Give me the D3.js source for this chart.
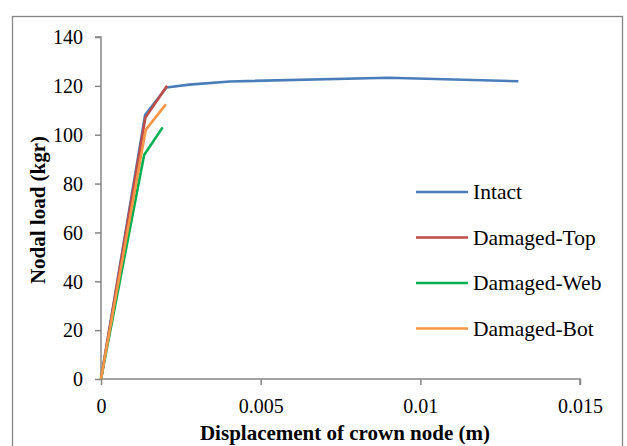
<!DOCTYPE html>
<html>
<head>
<meta charset="utf-8">
<script src="https://cdn.jsdelivr.net/npm/d3@7/dist/d3.min.js"></script>
<style>
  html, body { margin: 0; padding: 0; background: #fff; }
  svg { display: block; }
  text { font-family: "Liberation Serif", "Times New Roman", serif; fill: #000; }
</style>
</head>
<body>
<svg id="chart" width="627" height="446"></svg>
<script>
// Load–displacement curves for the crown node (displacement in m, load in kgr)
const seriesNames = ["Intact", "Damaged-Top", "Damaged-Web", "Damaged-Bot"];
const seriesColors = ["#4A7EBB", "#BE4B48", "#00B050", "#F79646"];

const intactDisp = [0, 0.00138, 0.00205, 0.00276, 0.00404, 0.0090, 0.01307];
const intactLoad = [0, 108, 119.3, 120.5, 121.8, 123.3, 121.9];

const topDisp = [0, 0.00139, 0.00207];
const topLoad = [0, 107, 120];

const webDisp = [0, 0.00135, 0.00193];
const webLoad = [0, 91.7, 103];

const botDisp = [0, 0.0014, 0.00203];
const botLoad = [0, 102, 112.4];

const xTicks = [0, 0.005, 0.01, 0.015];
const yTicks = [0, 20, 40, 60, 80, 100, 120, 140];

const seriesData = [
  [intactDisp, intactLoad],
  [topDisp, topLoad],
  [webDisp, webLoad],
  [botDisp, botLoad]
].map(([xs, ys]) => xs.map((x, i) => ({ x, y: ys[i] })));

const svg = d3.select("#chart");
const axisColor = "#868686";
const tickFont = "20px";
const legendFont = "21.5px";
const titleFont = "21px";

// outer chart frame
svg.append("rect")
  .attr("x", 12.5).attr("y", 16.5)
  .attr("width", 610).attr("height", 440)
  .attr("fill", "none").attr("stroke", axisColor).attr("stroke-width", 1.3);

const x = d3.scaleLinear().domain([0, 0.015]).range([101, 580]);
const y = d3.scaleLinear().domain([0, 140]).range([379, 37]);

// y axis
const yAxis = svg.append("g").attr("transform", "translate(101,0)")
  .call(d3.axisLeft(y).tickValues(yTicks).tickSize(6).tickFormat(d3.format("d")));
yAxis.selectAll("path, line").attr("stroke", axisColor).attr("stroke-width", 1.5);
yAxis.select("path").attr("d", `M-6,${y(140)}H0V${y(0)}`);
yAxis.selectAll("text")
  .attr("x", -18).attr("dy", "0.34em")
  .style("font-size", tickFont).style("font-family", "Liberation Serif").attr("fill", "#000");

// x axis
const xAxis = svg.append("g").attr("transform", "translate(0,379)")
  .call(d3.axisBottom(x).tickValues(xTicks).tickSize(6)
    .tickFormat(d => d === 0 ? "0" : String(+d.toFixed(3))));
xAxis.selectAll("path, line").attr("stroke", axisColor).attr("stroke-width", 1.5);
xAxis.select("path").attr("d", `M${x(0)},0H${x(0.015)}V6`);
xAxis.selectAll("text")
  .attr("y", 34).attr("dy", 0)
  .style("font-size", tickFont).style("font-family", "Liberation Serif").attr("fill", "#000");

// axis titles
svg.append("text")
  .attr("x", 345).attr("y", 440)
  .attr("text-anchor", "middle")
  .style("font-size", titleFont).style("font-weight", "bold")
  .text("Displacement of crown node (m)");

svg.append("text")
  .attr("transform", "translate(45,210) rotate(-90)")
  .attr("text-anchor", "middle")
  .style("font-size", titleFont).style("font-weight", "bold")
  .text("Nodal load (kgr)");

// series lines
const line = d3.line().x(d => x(d.x)).y(d => y(d.y));
seriesData.forEach((pts, i) => {
  svg.append("path")
    .datum(pts)
    .attr("d", line)
    .attr("fill", "none")
    .attr("stroke", seriesColors[i])
    .attr("stroke-width", 2.6)
    .attr("stroke-linejoin", "round");
});

// legend
const legend = svg.append("g");
seriesNames.forEach((name, i) => {
  const ly = 192 + i * 45.5;
  legend.append("line")
    .attr("x1", 416).attr("x2", 468)
    .attr("y1", ly).attr("y2", ly)
    .attr("stroke", seriesColors[i]).attr("stroke-width", 2.6);
  legend.append("text")
    .attr("x", 473).attr("y", ly + 7)
    .style("font-size", legendFont)
    .text(name);
});
</script>
</body>
</html>
